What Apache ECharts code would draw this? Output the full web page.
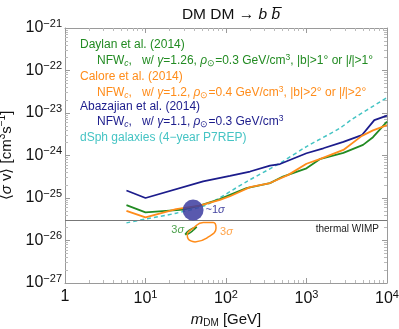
<!DOCTYPE html>
<html>
<head>
<meta charset="utf-8">
<script src="https://cdn.jsdelivr.net/npm/echarts@6/dist/echarts.min.js"></script>
<style>
  html, body { margin: 0; padding: 0; background: #fff; }
  #chart { width: 399px; height: 329px; }
</style>
</head>
<body>
<div id="chart"></div>
<script>
// values: mass in GeV, <sigma v> in units of 1e-26 cm^3/s
// (ECharts rounds tiny numbers like 1e-27 to zero, so the y values carry this unit)
const SV_EXP = -26;

const daylanMass = [5.8, 10, 29.5, 47, 84, 112, 180, 352, 510, 1000, 1460, 2870, 5040, 6700, 10000];
const daylanSv = [6.8, 4.6, 5.3, 6.6, 9.4, 11.9, 17, 22.4, 32, 50, 82, 115, 178, 270, 630];

const caloreMass = [5.8, 10, 24, 47, 84, 112, 199, 352, 594, 1000, 1460, 2870, 4870, 6700, 10000];
const caloreSv = [5.0, 3.5, 5.5, 6.6, 9.0, 11, 18, 22.5, 35, 64, 82, 135, 290, 390, 520];

const abazajianMass = [5.8, 10, 52, 112, 199, 352, 468, 1000, 1620, 2870, 4870, 6960, 10000];
const abazajianSv = [15, 10, 24.5, 33, 42, 58, 63, 113, 148, 210, 300, 680, 870];

const dsphMass = [5.8, 10, 24, 57, 181, 468, 1000, 2600, 3600, 10000];
const dsphSv = [2.6, 3.2, 4.4, 6.9, 24.4, 66, 162, 440, 690, 2300];

// 3 sigma contours
const daylanContourMass = [31.0, 34.7, 43.3, 40.0, 33.7, 31.0];
const daylanContourSv = [1.39, 1.74, 2.07, 1.79, 1.42, 1.39];
const caloreContourMass = [41.2, 34.0, 33.0, 39.2, 52.2, 69.5, 75.2, 57.6, 41.2];
const caloreContourSv = [0.92, 1.08, 1.36, 1.96, 2.65, 2.65, 1.96, 1.14, 0.92];

// ~1 sigma best fit (Abazajian)
const bestFit = [39, 5.2];
const thermalWimp = 3;

const green = '#228b22';
const orange = '#ff8c1a';
const navy = '#1c1c8c';
const cyan = '#45c4c4';
const FONT = 'Liberation Sans';

const zip = (xs, ys) => xs.map((x, i) => [x, ys[i]]);

function powLabel(shift) {
  return (v) => {
    const e = Math.round(Math.log10(v)) + shift;
    if (e === 0) return '{b|1}';
    return '{b|10}{s|' + (e < 0 ? '\u2212' + (-e) : e) + '}';
  };
}

const tickRich = {
  b: { fontSize: 16, fontFamily: FONT, color: '#111' },
  s: { fontSize: 11, fontFamily: FONT, color: '#111', padding: [0, 0, 9, 0] },
};

const LF = 12;
const textRich = {
  sub: { fontSize: 8.5, fontFamily: FONT, padding: [6, 0, 0, 0] },
  isub: { fontSize: 8.5, fontFamily: FONT, fontStyle: 'italic', padding: [6, 0, 0, 0] },
  sup: { fontSize: 8.5, fontFamily: FONT, padding: [0, 0, 7, 0] },
  it: { fontSize: LF, fontFamily: FONT, fontStyle: 'italic' },
};

function legendLine(x, y, text, color) {
  return {
    type: 'text', x, y,
    style: { text, fill: color, fontSize: LF, fontFamily: FONT, verticalAlign: 'middle', rich: textRich },
  };
}

const axisGrey = '#9a9a9a';
const logX = {
  type: 'log', min: 1, max: 10000,
  axisLine: { lineStyle: { color: axisGrey } },
  axisTick: { inside: true, length: 5, lineStyle: { color: axisGrey } },
  minorTick: { show: true, splitNumber: 9, length: 3, lineStyle: { color: '#bbb' } },
  splitLine: { show: false },
};
const logY = {
  type: 'log', min: 0.1, max: 100000,
  axisLine: { lineStyle: { color: axisGrey } },
  axisTick: { inside: true, length: 5, lineStyle: { color: axisGrey } },
  minorTick: { show: true, splitNumber: 9, length: 3, lineStyle: { color: '#bbb' } },
  splitLine: { show: false },
};

const chart = echarts.init(document.getElementById('chart'), null, { renderer: 'canvas' });

chart.setOption({
  animation: false,
  backgroundColor: '#fff',
  title: {
    text: 'DM DM \u2192 {i|b} {i|b\u0305}',
    left: 226, top: 2, textAlign: 'center',
    textStyle: {
      fontSize: 15.5, fontWeight: 'normal', fontFamily: FONT, color: '#111',
      rich: { i: { fontSize: 15.5, fontFamily: FONT, fontStyle: 'italic', color: '#111' } },
    },
  },
  grid: { left: 65, right: 12, top: 28, bottom: 46, containLabel: false, outerBoundsMode: 'none' },
  xAxis: [
    Object.assign({}, logX, {
      position: 'bottom',
      axisLabel: { formatter: powLabel(0), rich: tickRich, margin: 6 },
      name: '{i|m}{sub|DM} [GeV]',
      nameLocation: 'middle', nameGap: 27,
      nameTextStyle: {
        fontSize: 15, fontFamily: FONT, color: '#111',
        rich: {
          i: { fontSize: 15, fontFamily: FONT, fontStyle: 'italic', color: '#111' },
          sub: { fontSize: 10, fontFamily: FONT, color: '#111', padding: [8, 0, 0, 0] },
        },
      },
    }),
    Object.assign({}, logX, { position: 'top', axisLabel: { show: false } }),
  ],
  yAxis: [
    Object.assign({}, logY, {
      position: 'left',
      axisLabel: { formatter: powLabel(SV_EXP), rich: tickRich, margin: 3 },
      name: '\u27e8{i|\u03c3} v\u27e9 [cm{sup|3}s{sup|\u22121}]',
      nameLocation: 'middle', nameGap: 44,
      nameTextStyle: {
        fontSize: 15, fontFamily: FONT, color: '#111',
        rich: {
          i: { fontSize: 15, fontFamily: FONT, fontStyle: 'italic', color: '#111' },
          sup: { fontSize: 10, fontFamily: FONT, color: '#111', padding: [0, 0, 9, 0] },
        },
      },
    }),
    Object.assign({}, logY, { position: 'right', axisLabel: { show: false } }),
  ],
  graphic: [
    legendLine(80, 45, 'Daylan et al. (2014)', green),
    legendLine(97, 61, 'NFW{isub|c},   w/ {it|\u03b3}=1.26, {it|\u03c1}{sub|\u2299}=0.3 GeV/cm{sup|3}, |b|>1\u00b0 or |{it|l}|>1\u00b0', green),
    legendLine(80, 77, 'Calore et al. (2014)', orange),
    legendLine(97, 93, 'NFW{isub|c},   w/ {it|\u03b3}=1.2, {it|\u03c1}{sub|\u2299}=0.4 GeV/cm{sup|3}, |b|>2\u00b0 or |{it|l}|>2\u00b0', orange),
    legendLine(80, 107, 'Abazajian et al. (2014)', navy),
    legendLine(97, 122, 'NFW{isub|c},   w/ {it|\u03b3}=1.1, {it|\u03c1}{sub|\u2299}=0.3 GeV/cm{sup|3}', navy),
    legendLine(80, 138, 'dSph galaxies (4\u2212year P7REP)', cyan),
  ],
  series: [
    {
      name: 'dSph', type: 'line', data: zip(dsphMass, dsphSv), smooth: 0.3,
      showSymbol: false, lineStyle: { color: cyan, width: 1.5, type: [4, 3] },
      markLine: {
        silent: true, symbol: 'none', animation: false,
        lineStyle: { color: '#777', width: 1, type: 'solid' },
        label: {
          position: 'insideEndBottom', formatter: 'thermal WIMP',
          color: '#222', fontSize: 10, fontFamily: FONT, distance: [8, 4],
        },
        data: [{ yAxis: thermalWimp }],
      },
    },
    {
      name: 'Abazajian', type: 'line', data: zip(abazajianMass, abazajianSv),
      showSymbol: false, lineStyle: { color: navy, width: 1.8 },
    },
    {
      name: 'Daylan', type: 'line', data: zip(daylanMass, daylanSv),
      showSymbol: false, lineStyle: { color: green, width: 1.8 },
    },
    {
      name: 'Calore', type: 'line', data: zip(caloreMass, caloreSv),
      showSymbol: false, lineStyle: { color: orange, width: 1.8 },
    },
    {
      name: 'Daylan 3sigma', type: 'line', data: zip(daylanContourMass, daylanContourSv), smooth: 0.4,
      showSymbol: false, lineStyle: { color: green, width: 1.5 },
    },
    {
      name: 'Calore 3sigma', type: 'line', data: zip(caloreContourMass, caloreContourSv), smooth: 0.5,
      showSymbol: false, lineStyle: { color: orange, width: 1.5 },
    },
    {
      name: 'best fit', type: 'scatter', data: [bestFit], symbolSize: 21, z: 5,
      itemStyle: { color: '#3c3ca0', opacity: 0.85 },
      label: {
        show: true, position: 'right', distance: 2,
        formatter: '~1{i|\u03c3}', color: navy, fontSize: 11, fontFamily: FONT,
        rich: { i: { fontSize: 11, fontFamily: FONT, fontStyle: 'italic', color: navy } },
      },
    },
    {
      name: 'labels', type: 'scatter', symbolSize: 0, silent: true,
      data: [
        { value: [daylanContourMass[0], daylanContourSv[0]], label: { position: 'left', color: green, distance: 1, offset: [0, -4] } },
        { value: [caloreContourMass[6], caloreContourSv[6]], label: { position: 'right', color: orange, distance: 4, offset: [0, 4] } },
      ],
      label: {
        show: true, formatter: '3{i|\u03c3}', fontSize: 11, fontFamily: FONT,
        rich: { i: { fontSize: 11, fontFamily: FONT, fontStyle: 'italic' } },
      },
    },
  ],
});
</script>
</body>
</html>
